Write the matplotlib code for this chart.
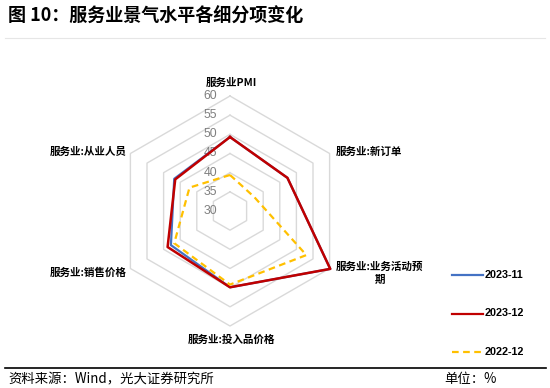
import numpy as np
import matplotlib
matplotlib.use("Agg")
import matplotlib.pyplot as plt
from matplotlib.lines import Line2D

plt.rcParams['font.family'] = ['Noto Sans CJK SC', 'DejaVu Sans']

categories = ['服务业PMI', '服务业:新订单', '服务业:业务活动预期', '服务业:投入品价格', '服务业:销售价格', '服务业:从业人员']
series_names = ['2023-11', '2023-12', '2022-12']
v_2023_11 = [49.3, 47.3, 60.2, 49.9, 47.8, 46.8]
v_2023_12 = [49.3, 47.3, 60.2, 49.9, 48.8, 46.5]
v_2022_12 = [39.4, 37.3, 53.0, 49.2, 46.8, 42.2]
ring_values = [30, 35, 40, 45, 50, 55, 60]

W, H = 550, 388
fig = plt.figure(figsize=(W / 100, H / 100), dpi=100)
cx, cy, R = 230, 211, 115
ax = fig.add_axes([(cx - R) / W, (H - cy - R) / H, 2 * R / W, 2 * R / H], projection='polar')
ax.set_theta_offset(np.pi / 2)
ax.set_theta_direction(-1)
ax.set_ylim(30, 60)
ax.set_xticks([])
ax.set_yticks([])
ax.grid(False)
ax.spines['polar'].set_visible(False)
ax.patch.set_visible(False)

n = len(categories)
theta = np.arange(n) * 2 * np.pi / n
theta_c = np.append(theta, theta[0])

for rv in ring_values[1:]:
    ax.plot(theta_c, [rv] * (n + 1), color='#d9d9d9', lw=1.0, zorder=1, clip_on=False)

def closed(v):
    return list(v) + [v[0]]

ax.plot(theta_c, closed(v_2023_11), color='#4472C4', lw=1.6, zorder=3, clip_on=False)
ax.plot(theta_c, closed(v_2023_12), color='#C00000', lw=1.8, zorder=4, clip_on=False)
ax.plot(theta_c, closed(v_2022_12), color='#FFC000', lw=1.6, ls=(0, (3, 2)), zorder=5, clip_on=False)

for rv in ring_values:
    ax.annotate(str(rv), xy=(0, rv), xytext=(-13, 0), textcoords='offset pixels',
                ha='right', va='center', fontsize=8.8, color='#7f7f7f',
                family=['Liberation Sans', 'DejaVu Sans'], annotation_clip=False, zorder=2)

lab_kw = dict(fontsize=7.6, fontweight='bold', color='#000000', textcoords='offset pixels', annotation_clip=False)
ax.annotate(categories[0], xy=(theta[0], 60), xytext=(1, 13), ha='center', va='center', **lab_kw)
ax.annotate(categories[1], xy=(theta[1], 60), xytext=(6, 2), ha='left', va='center', **lab_kw)
ax.annotate('服务业:业务活动预\n期', xy=(theta[2], 60), xytext=(50, -5), ha='center', va='center',
            multialignment='center', linespacing=1.35, **lab_kw)
ax.annotate(categories[3], xy=(theta[3], 60), xytext=(1, -14), ha='center', va='center', **lab_kw)
ax.annotate(categories[4], xy=(theta[4], 60), xytext=(-4, -4.5), ha='right', va='center', **lab_kw)
ax.annotate(categories[5], xy=(theta[5], 60), xytext=(-4, 1.5), ha='right', va='center', **lab_kw)

# Legend (manual)
leg_colors = ['#4472C4', '#C00000', '#FFC000']
leg_ls = ['-', '-', (0, (3, 2))]
leg_y = [275, 313.5, 352]
for name, c, ls, y in zip(series_names, leg_colors, leg_ls, leg_y):
    fig.add_artist(Line2D([452 / W, 483 / W], [(H - y) / H] * 2, color=c, lw=1.6, ls=ls))
    fig.text(485 / W, (H - y) / H, name, ha='left', va='center', fontsize=7.8, fontweight='bold',
             family=['Liberation Sans', 'DejaVu Sans'])

# Title
fig.text(8 / W, (H - 16) / H, '图 10：服务业景气水平各细分项变化', ha='left', va='center',
         fontsize=13, fontweight='bold', color='#000000')
fig.add_artist(Line2D([5 / W, 545 / W], [(H - 38) / H] * 2, color='#e6e6e6', lw=0.8))

# Footer
fig.add_artist(Line2D([5 / W, 546 / W], [(H - 367.5) / H] * 2, color='#000000', lw=1.2))
fig.text(8 / W, (H - 379) / H, '资料来源：Wind，光大证券研究所', ha='left', va='center',
         fontsize=9.6, color='#000000')
fig.text(497 / W, (H - 379) / H, '单位：%', ha='right', va='center', fontsize=9.6, color='#000000')

fig.savefig('out.png', dpi=100)
